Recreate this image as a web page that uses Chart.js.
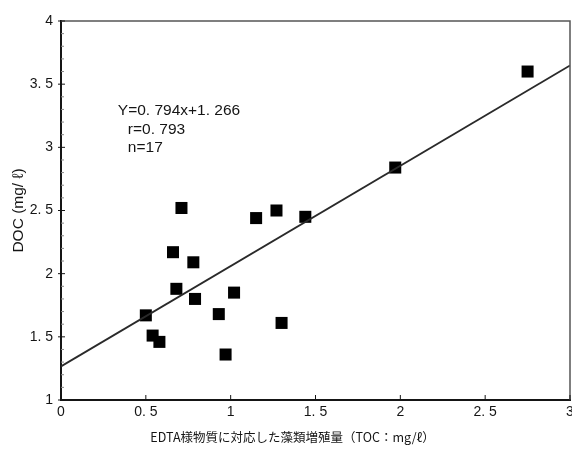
<!DOCTYPE html>
<html lang="ja">
<head>
    <meta charset="UTF-8">
    <title>DOC vs EDTA</title>
    <script src="https://cdn.jsdelivr.net/npm/chart.js@4"></script>
    <style>
        body {
            margin: 0;
            background: #fff;
        }
        #wrap {
            width: 572px;
            height: 456px;
        }
    </style>
</head>
<body>
<div id="wrap"><canvas id="chart" width="572" height="456"></canvas></div>
<script>
    // Data
    const tocX = [0.71, 1.15, 1.27, 1.44, 0.66, 0.78, 0.68, 0.79, 1.02, 0.50, 0.93, 0.54, 0.58, 0.97, 1.30, 1.97, 2.75];
    const docY = [2.52, 2.44, 2.50, 2.45, 2.17, 2.09, 1.88, 1.80, 1.85, 1.67, 1.68, 1.51, 1.46, 1.36, 1.61, 2.84, 3.60];

    // regression line Y = 0.794x + 1.266, end points
    const fitX = [0, 3];
    const fitY = [1.266, 3.648];

    const xTicks = [0, 0.5, 1, 1.5, 2, 2.5, 3];
    const xTickLabels = ['0', '0. 5', '1', '1. 5', '2', '2. 5', '3'];
    const yTicks = [1, 1.5, 2, 2.5, 3, 3.5, 4];
    const yTickLabels = ['1', '1. 5', '2', '2. 5', '3', '3. 5', '4'];

    const statLines = ['Y=0. 794x+1. 266', 'r=0. 793', 'n=17'];
    const xTitle = 'EDTA様物質に対応した藻類増殖量（TOC：mg/ℓ）';
    const yTitle = 'DOC (mg/ ℓ)';

    const ink = '#151515';

    // frame, inner ticks, stats text and x title
    const decorations = {
        id: 'decorations',
        afterDraw(chart) {
            const ctx = chart.ctx;
            const a = chart.chartArea;
            const xs = chart.scales.x;
            const ys = chart.scales.y;
            ctx.save();

            // top and right frame (lighter)
            ctx.strokeStyle = '#555';
            ctx.lineWidth = 1.5;
            ctx.beginPath();
            ctx.moveTo(a.left, a.top);
            ctx.lineTo(a.right, a.top);
            ctx.lineTo(a.right, a.bottom);
            ctx.stroke();

            // inner ticks
            ctx.strokeStyle = ink;
            ctx.lineWidth = 1;
            ctx.beginPath();
            xTicks.forEach(v => {
                const px = xs.getPixelForValue(v);
                ctx.moveTo(px, a.bottom);
                ctx.lineTo(px, a.bottom - 5);
            });
            yTicks.forEach(v => {
                const py = ys.getPixelForValue(v);
                ctx.moveTo(a.left - 3, py);
                ctx.lineTo(a.left + 4, py);
            });
            ctx.stroke();
            ctx.strokeStyle = '#888';
            ctx.beginPath();
            for (let i = 0; i < yTicks.length - 1; i++) {
                for (let k = 1; k < 5; k++) {
                    const py = ys.getPixelForValue(yTicks[i] + k * 0.1);
                    ctx.moveTo(a.left, py);
                    ctx.lineTo(a.left + 3, py);
                }
            }
            ctx.stroke();

            // regression stats
            ctx.fillStyle = ink;
            ctx.font = '15.5px "Liberation Sans", Arial, sans-serif';
            ctx.textBaseline = 'middle';
            ctx.textAlign = 'left';
            const tx = xs.getPixelForValue(0.335);
            const ty = ys.getPixelForValue(3.29);
            ctx.fillText(statLines[0], tx, ty);
            ctx.fillText(statLines[1], tx + 10, ty + 19);
            ctx.fillText(statLines[2], tx + 10, ty + 37);

            // x axis title
            ctx.font = '12.5px "Noto Sans CJK JP", sans-serif';
            ctx.textAlign = 'center';
            ctx.fillText(xTitle, a.left + (a.right - a.left) * 0.455, 437);
            ctx.restore();
        }
    };

    new Chart(document.getElementById('chart'), {
        type: 'scatter',
        data: {
            datasets: [
                {
                    label: 'fit',
                    type: 'line',
                    data: fitX.map((x, i) => ({x: x, y: fitY[i]})),
                    borderColor: '#2a2a2a',
                    borderWidth: 1.8,
                    pointRadius: 0,
                    fill: false
                },
                {
                    label: 'DOC',
                    data: tocX.map((x, i) => ({x: x, y: docY[i]})),
                    pointStyle: 'rect',
                    pointRadius: 8.5,
                    backgroundColor: '#000',
                    borderColor: '#000',
                    borderWidth: 0
                }
            ]
        },
        options: {
            responsive: false,
            animation: false,
            layout: {
                autoPadding: false,
                padding: {top: 21, right: 2, bottom: 0, left: 9}
            },
            plugins: {
                legend: {display: false},
                tooltip: {enabled: false}
            },
            scales: {
                x: {
                    type: 'linear',
                    min: 0,
                    max: 3,
                    afterBuildTicks: s => { s.ticks = xTicks.map(v => ({value: v})); },
                    afterFit: s => { s.height = 56; s.paddingRight = 0; s.paddingLeft = 0; },
                    grid: {display: false, drawTicks: false},
                    border: {display: true, color: ink, width: 2},
                    ticks: {
                        color: ink,
                        padding: 4,
                        maxRotation: 0,
                        font: {family: '"Liberation Sans Narrow", "Liberation Sans", Arial', size: 14},
                        callback: (v) => xTickLabels[xTicks.indexOf(v)]
                    }
                },
                y: {
                    type: 'linear',
                    min: 1,
                    max: 4,
                    afterBuildTicks: s => { s.ticks = yTicks.map(v => ({value: v})); },
                    afterFit: s => { s.width = 52; s.paddingTop = 0; s.paddingBottom = 0; },
                    grid: {display: false, drawTicks: false},
                    border: {display: true, color: ink, width: 2},
                    title: {
                        display: true,
                        text: yTitle,
                        color: ink,
                        padding: {top: 0, bottom: 4},
                        font: {family: '"Liberation Sans", Arial, "Noto Sans CJK JP"', size: 15.5}
                    },
                    ticks: {
                        color: ink,
                        padding: 8,
                        font: {family: '"Liberation Sans Narrow", "Liberation Sans", Arial', size: 14},
                        callback: (v) => yTickLabels[yTicks.indexOf(v)]
                    }
                }
            }
        },
        plugins: [decorations]
    });
</script>
</body>
</html>
